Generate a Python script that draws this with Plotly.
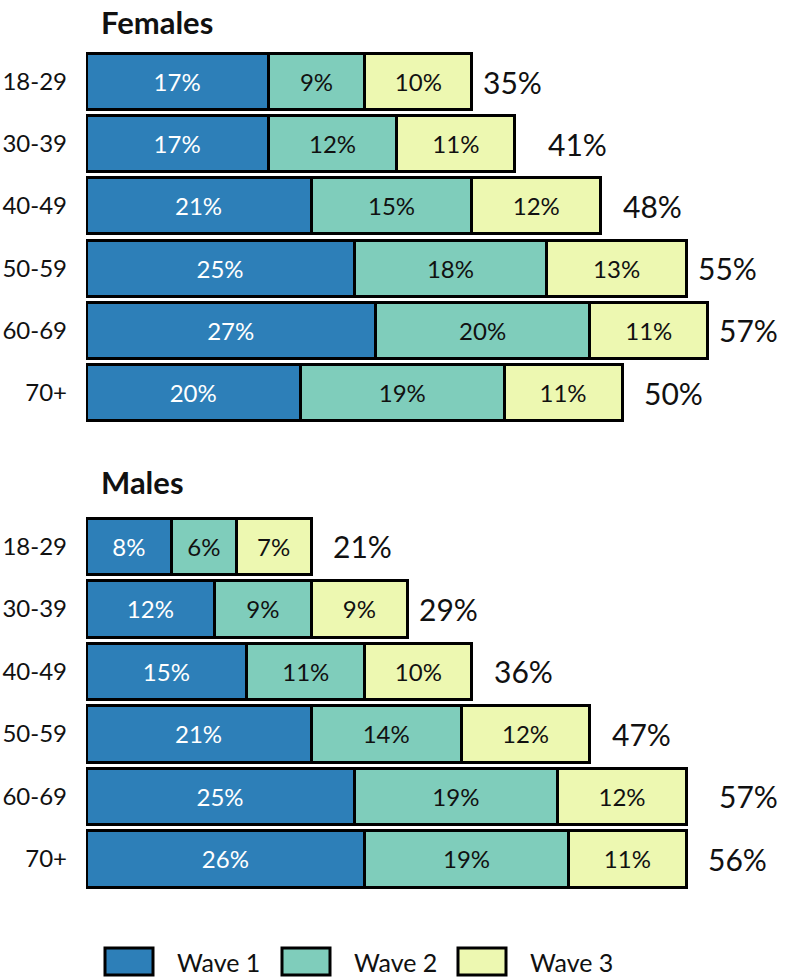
import plotly.graph_objects as go

ages = ["18-29", "30-39", "40-49", "50-59", "60-69", "70+"]
waves = ["Wave 1", "Wave 2", "Wave 3"]
colors = ["#2d7fb8", "#7fcdbb", "#edf8b1"]
text_colors = ["white", "#111111", "#111111"]

female_w1 = [17, 17, 21, 25, 27, 20]
female_w2 = [9, 12, 15, 18, 20, 19]
female_w3 = [10, 11, 12, 13, 11, 11]
female_total = [35, 41, 48, 55, 57, 50]

male_w1 = [8, 12, 15, 21, 25, 26]
male_w2 = [6, 9, 11, 14, 19, 19]
male_w3 = [7, 9, 10, 12, 12, 11]
male_total = [21, 29, 36, 47, 57, 56]

FONT = "Lato"
W, H = 787, 978
ML = 86
PW = W - ML


def px(xpix):
    return (xpix - ML) / PW


def py(ypix):
    return 1 - ypix / H


fig = go.Figure()

panels = [
    ("Females", [female_w1, female_w2, female_w3], female_total, "x", "y"),
    ("Males", [male_w1, male_w2, male_w3], male_total, "x2", "y2"),
]

for title, series, totals, xa, ya in panels:
    for i, vals in enumerate(series):
        fig.add_trace(go.Bar(
            y=ages, x=vals, orientation="h", name=waves[i],
            marker=dict(color=colors[i], line=dict(color="black", width=3)),
            text=[f"{v}%" for v in vals], textposition="inside",
            insidetextanchor="middle", textangle=0,
            textfont=dict(family=FONT, size=24, color=text_colors[i]),
            constraintext="none",
            xaxis=xa, yaxis=ya, showlegend=False, hoverinfo="skip",
        ))
    for a, t in zip(ages, totals):
        fig.add_annotation(
            x=t, y=a, xref=xa, yref=ya, text=f"{t}%", showarrow=False,
            xanchor="left", xshift=20,
            font=dict(family=FONT, size=30, color="#111111"),
        )

# panel titles
fig.add_annotation(x=px(99), y=py(1), xref="paper", yref="paper",
                   text="<b>Females</b>", showarrow=False, xanchor="left",
                   yanchor="top", font=dict(family=FONT, size=31, color="#111111"))
fig.add_annotation(x=px(99), y=py(482), xref="paper", yref="paper",
                   text="<b>Males</b>", showarrow=False, xanchor="left",
                   yanchor="middle", font=dict(family=FONT, size=31, color="#111111"))

# custom legend
box_x = [105, 282, 458]
for i, name in enumerate(waves):
    fig.add_shape(type="rect", xref="paper", yref="paper",
                  x0=px(box_x[i]), x1=px(box_x[i] + 48), y0=py(975), y1=py(948),
                  fillcolor=colors[i], line=dict(color="black", width=3))
    fig.add_annotation(x=px(box_x[i] + 70), y=py(962), xref="paper", yref="paper",
                       text=name, showarrow=False, xanchor="left", yanchor="middle",
                       font=dict(family=FONT, size=25, color="#111111"))

xrange = [0, PW / 10.72]
common_x = dict(range=xrange, visible=False, fixedrange=True)
common_y = dict(autorange="reversed", showgrid=False, zeroline=False, showline=False,
                ticks="", ticklabelstandoff=18, fixedrange=True,
                tickfont=dict(family=FONT, size=24, color="#111111"))

fig.update_layout(
    width=W, height=H,
    margin=dict(l=ML, r=0, t=0, b=0),
    paper_bgcolor="white", plot_bgcolor="white",
    barmode="stack", bargap=0.1,
    xaxis=dict(domain=[0, 1], anchor="y", **common_x),
    xaxis2=dict(domain=[0, 1], anchor="y2", **common_x),
    yaxis=dict(domain=[py(423.6), py(50.4)], anchor="x", **common_y),
    yaxis2=dict(domain=[py(890.2), py(515.2)], anchor="x2", **common_y),
    showlegend=False,
)

fig.write_html("out.html", config={"displayModeBar": False},
               post_script="document.body.style.margin='0px';")
